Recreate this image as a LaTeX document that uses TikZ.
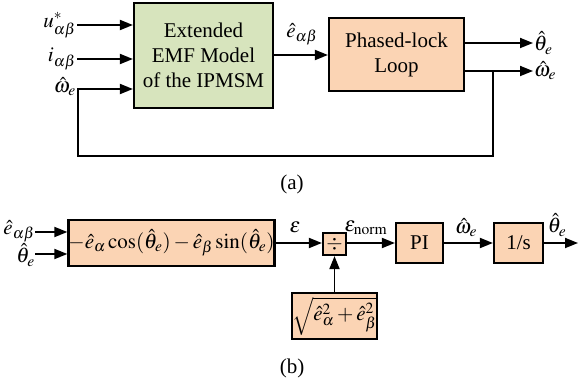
\documentclass[tikz,border=0pt]{standalone}
\usepackage{mathptmx}
\usepackage{fontspec}
\setmainfont{Liberation Serif}
\usetikzlibrary{arrows.meta}
\definecolor{boxgreen}{HTML}{D7E4BD}
\definecolor{boxpeach}{HTML}{FBD4B4}
\begin{document}
\begin{tikzpicture}[x=1pt,y=-1pt,
  font=\fontsize{21}{25}\selectfont,
  blk/.style={draw=black,line width=2.2pt,inner sep=0pt,align=center},
  conn/.style={line width=1.8pt,-{Triangle[length=13pt,width=10pt]}},
  plain/.style={line width=1.8pt},
  lbl/.style={inner sep=1pt}]
\useasboundingbox (0,0) rectangle (579,387);
% ---------- (a) ----------
\node[blk,fill=boxgreen,minimum width=139pt,minimum height=105pt] (G) at (203.5,55.5) {Extended\\EMF Model\\of the IPMSM};
\node[blk,fill=boxpeach,minimum width=135pt,minimum height=73pt] (P) at (396.5,54.5) {Phased-lock\\Loop};
\coordinate (u0) at (77,25);
\coordinate (i0) at (77,59);
\coordinate (thA) at (533,43);
\coordinate (wA) at (533,71);
\coordinate (br) at (493,71);
\coordinate (fb1) at (493,156);
\coordinate (fb2) at (78,156);
\coordinate (fb3) at (78,89);
\node[lbl,anchor=east] (lu) at (u0) {$u_{\alpha\beta}^{*}$};
\node[lbl,anchor=east] (li) at (i0) {$i_{\alpha\beta}$};
\node[lbl,anchor=east] (lw) at (77,87) {$\hat{\omega}_e$};
\draw[conn] (u0) -- (u0 -| G.west);
\draw[conn] (i0) -- (i0 -| G.west);
\draw[conn] (G.east |- 0,55) -- (P.west |- 0,55);
\node[lbl] (le) at (302,34) {$\hat{e}_{\alpha\beta}$};
\draw[conn] (P.east |- thA) -- (thA);
\draw[conn] (P.east |- wA) -- (wA);
\node[lbl,anchor=west] (lth) at (thA) {$\hat{\theta}_e$};
\node[lbl,anchor=west] (lwo) at (wA) {$\hat{\omega}_e$};
\draw[plain] (br) -- (fb1) -- (fb2) -- (fb3);
\draw[conn] ([xshift=-0.9pt]fb3) -- (fb3 -| G.west);
\node[lbl] (capa) at (292,184) {(a)};
% ---------- (b) ----------
\node[blk,fill=boxpeach,minimum width=197pt,minimum height=46pt] (B1) at (171.5,243) {$-\hat{e}_\alpha\cos(\hat{\theta}_e)-\hat{e}_\beta\sin(\hat{\theta}_e)$};
\node[blk,fill=boxpeach,minimum width=23pt,minimum height=22pt] (D) at (334.5,244) {$\div$};
\node[blk,fill=boxpeach,minimum width=47pt,minimum height=40pt] (PI) at (419.5,243) {PI};
\node[blk,fill=boxpeach,minimum width=49pt,minimum height=40pt] (INT) at (518.5,243) {1/s};
\node[blk,fill=boxpeach,minimum width=85pt,minimum height=46pt] (S) at (334.5,316) {$\sqrt{\hat{e}_\alpha^2+\hat{e}_\beta^2}$};
\coordinate (e0) at (35,232);
\coordinate (t0) at (35,254);
\coordinate (tout) at (578,243);
\node[lbl,anchor=east] (le2) at (36,231) {$\hat{e}_{\alpha\beta}$};
\node[lbl,anchor=east] (lt2) at (36,255) {$\hat{\theta}_e$};
\draw[conn] (e0) -- (e0 -| B1.west);
\draw[conn] (t0) -- (t0 -| B1.west);
\draw[conn] (B1.east |- 0,243) -- (D.west |- 0,243);
\node[lbl] (leps) at (295,227) {$\varepsilon$};
\draw[conn] (D.east |- 0,243) -- (PI.west);
\node[lbl] (lnorm) at (366,228) {$\varepsilon_{\mathrm{norm}}$};
\draw[conn] (PI.east) -- (INT.west);
\node[lbl] (lw2) at (466,228) {$\hat{\omega}_e$};
\draw[conn] (INT.east) -- (tout);
\node[lbl] (lt3) at (557,225) {$\hat{\theta}_e$};
\draw[conn] (S.north) -- (D.south);
\node[lbl] (capb) at (292,368) {(b)};
\end{tikzpicture}
\end{document}
